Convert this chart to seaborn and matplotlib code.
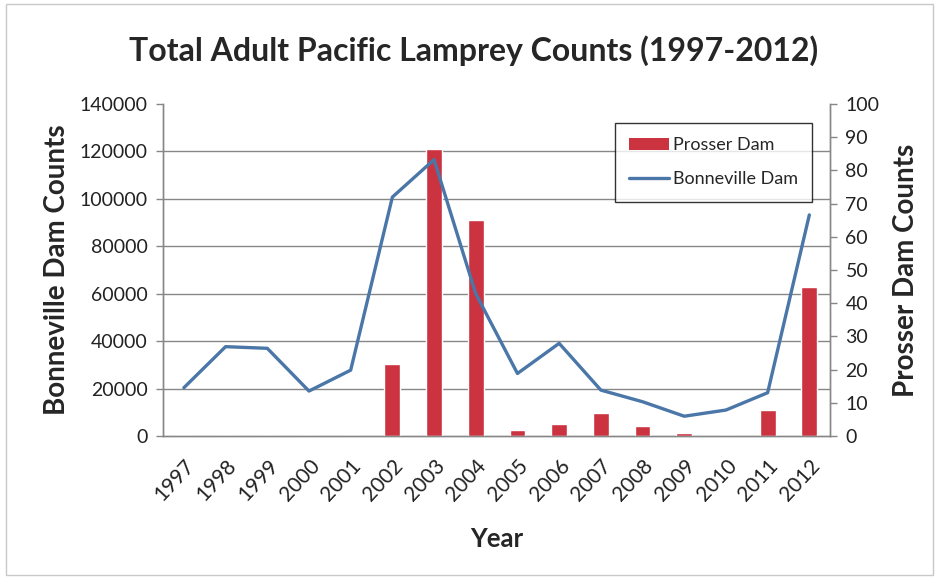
import numpy as np
import pandas as pd
import matplotlib
matplotlib.use("Agg")
import matplotlib.pyplot as plt
from matplotlib.patches import Rectangle
from matplotlib.lines import Line2D
import seaborn as sns

# Annual adult Pacific lamprey counts
years = ["1997", "1998", "1999", "2000", "2001", "2002", "2003", "2004",
         "2005", "2006", "2007", "2008", "2009", "2010", "2011", "2012"]
bonneville = [20400, 37700, 37000, 19000, 27800, 100700, 116500, 60000,
              26400, 39100, 19400, 14500, 8400, 11000, 18300, 93200]
prosser = [0, 0, 0, 0, 0, 21.6, 86.5, 65.1, 1.8, 3.8, 7.1, 3.0, 1.1, 0, 7.8, 45.0]

left_ticks = list(range(0, 140001, 20000))
right_ticks = list(range(0, 101, 10))

df = pd.DataFrame({"Year": years, "Bonneville": bonneville, "Prosser": prosser})
df["pos"] = np.arange(len(years))

sns.set_theme(style="white")
plt.rcParams["font.family"] = ["Lato", "DejaVu Sans"]

fig = plt.figure(figsize=(9.37, 5.80), dpi=100)
fig.patch.set_facecolor("white")
fig.add_artist(Rectangle((0.006, 0.008), 0.99, 0.985, transform=fig.transFigure,
                         fill=False, edgecolor="#c8c8c8", lw=1.0))

ax2 = fig.add_axes([0.174, 0.248, 0.712, 0.573])   # right axis: Prosser bars
ax = ax2.twinx()                                     # left axis: Bonneville line
ax.yaxis.tick_left()
ax.yaxis.set_label_position("left")
ax2.yaxis.tick_right()
ax2.yaxis.set_label_position("right")
ax.set_zorder(ax2.get_zorder() + 1)
ax.patch.set_visible(False)

bar_color = "#cc3340"
line_color = "#4a76a8"

sns.barplot(data=df, x="pos", y="Prosser", color=bar_color, width=0.38,
            saturation=1, native_scale=True, ax=ax2, zorder=3)
sns.lineplot(data=df, x="pos", y="Bonneville", color=line_color, lw=2.4,
             ax=ax, zorder=4)

ax2.set_xlim(-0.5, len(years) - 0.5)
ax.set_ylim(0, 140000)
ax2.set_ylim(0, 100)

# horizontal gridlines at the left-axis ticks, drawn beneath the bars
ax2.set_yticks([v * 100 / 140000 for v in left_ticks], minor=True)
ax2.grid(which="minor", axis="y", color="#878787", lw=1.0, zorder=0)
ax2.tick_params(axis="y", which="minor", length=0)
ax2.grid(which="major", visible=False)

ax.set_yticks(left_ticks)
ax.set_yticklabels([str(v) for v in left_ticks], fontsize=14)
ax2.set_yticks(right_ticks)
ax2.set_yticklabels([str(v) for v in right_ticks], fontsize=14)

# category labels at centers, tick marks at category boundaries
ax2.set_xticks(np.arange(len(years)))
ax2.set_xticklabels(years, rotation=47, ha="right", rotation_mode="anchor",
                    fontsize=15)
ax2.tick_params(axis="x", which="major", length=0, pad=14, labelbottom=True)
ax2.set_xticks(np.arange(len(years) + 1) - 0.5, minor=True)
ax2.tick_params(axis="x", which="minor", length=5, width=1, color="#878787",
                direction="out")

ax.tick_params(axis="y", length=5, width=1, color="#878787", direction="out",
               pad=6, labelcolor="#222222")
ax2.tick_params(axis="y", which="major", length=5, width=1, color="#878787",
                direction="out", pad=6, labelcolor="#222222")
ax2.tick_params(axis="x", labelcolor="#222222")

for a in (ax, ax2):
    for s in ("left", "right", "bottom"):
        a.spines[s].set_visible(True)
        a.spines[s].set_color("#878787")
        a.spines[s].set_linewidth(1.0)
    a.spines["top"].set_visible(False)

ax.set_xlabel("")
ax2.set_xlabel("Year", fontsize=18.5, fontweight="bold", labelpad=16)
ax.set_ylabel("Bonneville Dam Counts", fontsize=20, fontweight="bold",
              labelpad=7)
ax2.set_ylabel("Prosser Dam Counts", fontsize=20, fontweight="bold",
               labelpad=10, rotation=90)

fig.suptitle("Total Adult Pacific Lamprey Counts (1997-2012)", x=0.505, y=0.94,
             fontsize=23, fontweight="bold")

handles = [Rectangle((0, 0), 1, 1, facecolor=bar_color, edgecolor="none"),
           Line2D([], [], color=line_color, lw=2.4)]
leg = ax.legend(handles, ["Prosser Dam", "Bonneville Dam"],
                loc="upper right", bbox_to_anchor=(0.973, 0.943),
                frameon=True, fancybox=False, edgecolor="black",
                fontsize=13, labelspacing=1.0, handlelength=2.2,
                handleheight=0.6, handletextpad=0.2, borderpad=0.8,
                borderaxespad=0)
leg.get_frame().set_linewidth(1.0)

fig.savefig("out.png", dpi=100)
